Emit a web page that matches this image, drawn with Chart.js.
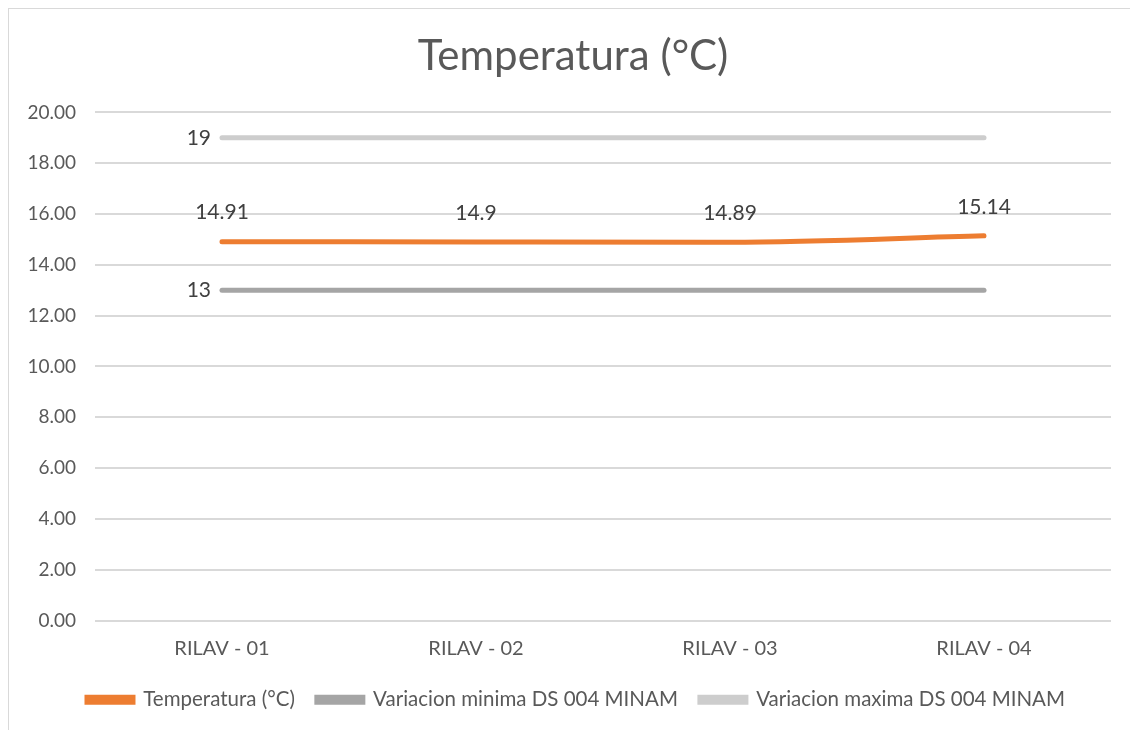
<!DOCTYPE html>
<html>
<head>
<meta charset="utf-8">
<script src="https://cdn.jsdelivr.net/npm/chart.js@4.4.1/dist/chart.umd.min.js"></script>
<style>
	html, body { margin: 0; padding: 0; background: #fff; }
	#wrap {
		position: absolute; left: 8px; top: 8px;
		width: 1122px; height: 722px;
		border-left: 1px solid #d9d9d9; border-top: 1px solid #d9d9d9;
	}
</style>
</head>
<body>
<div id="wrap"><canvas id="grafico"></canvas></div>
<script>
// datos del grafico
var estaciones = ["RILAV - 01", "RILAV - 02", "RILAV - 03", "RILAV - 04"];
var temperatura = [14.91, 14.9, 14.89, 15.14];
var variacionMinima = [13, 13, 13, 13];
var variacionMaxima = [19, 19, 19, 19];
var nombres = ["Temperatura (°C)", "Variacion minima DS 004 MINAM", "Variacion maxima DS 004 MINAM"];

var fuente = "Lato, 'Open Sans', sans-serif";
var gris = "#595959";

// etiquetas de datos (como en excel)
var etiquetas = {
	id: "etiquetas",
	afterLayout: function(chart) {
		// centrar titulo y leyenda como en excel
		chart.legend.left += 16;
		chart.legend.right += 16;
		chart.titleBlock.left += 13;
		chart.titleBlock.right += 13;
	},
	afterDatasetsDraw: function(chart) {
		var ctx = chart.ctx;
		ctx.save();
		ctx.font = "21px " + fuente;
		ctx.fillStyle = "#404040";
		chart.data.datasets.forEach(function(ds, i) {
			var meta = chart.getDatasetMeta(i);
			meta.data.forEach(function(pt, j) {
				if (i === 0) {
					ctx.textAlign = "center";
					ctx.textBaseline = "middle";
					ctx.fillText(String(ds.data[j]), pt.x, pt.y - 29);
				} else if (j === 0) {
					ctx.textAlign = "right";
					ctx.textBaseline = "middle";
					ctx.fillText(String(ds.data[j]), pt.x - 11, pt.y);
				}
			});
		});
		ctx.restore();
	}
};

var ctx = document.getElementById("grafico");

var grafico = new Chart(ctx, {
	type: "line",
	data: {
		labels: estaciones,
		datasets: [
			{
				label: nombres[0],
				data: temperatura,
				borderColor: "#ED7D31",
				backgroundColor: "#ED7D31",
				borderWidth: 5,
				cubicInterpolationMode: "monotone",
				pointRadius: 0,
				borderCapStyle: "round"
			},
			{
				label: nombres[1],
				data: variacionMinima,
				borderColor: "#A5A5A5",
				backgroundColor: "#A5A5A5",
				borderWidth: 5,
				pointRadius: 0,
				borderCapStyle: "round"
			},
			{
				label: nombres[2],
				data: variacionMaxima,
				borderColor: "#CDCDCD",
				backgroundColor: "#CDCDCD",
				borderWidth: 5,
				pointRadius: 0,
				borderCapStyle: "round"
			}
		]
	},
	options: {
		responsive: true,
		maintainAspectRatio: false,
		animation: false,
		layout: { padding: { left: 0, right: 20, top: 0, bottom: 11 } },
		plugins: {
			tooltip: { enabled: false },
			title: {
				display: true,
				text: "Temperatura (°C)",
				color: gris,
				font: { family: fuente, size: 42, weight: "normal" },
				padding: { top: 22, bottom: 31 }
			},
			legend: {
				position: "bottom",
				labels: {
					color: gris,
					font: { family: fuente, size: 20.5 },
					boxWidth: 46,
					boxHeight: 5,
					padding: 22
				}
			}
		},
		scales: {
			x: {
				offset: true,
				afterFit: function(scale) { scale.height = 47; },
				grid: { display: false },
				border: { display: false },
				ticks: {
					color: gris,
					font: { family: fuente, size: 20 },
					padding: 8
				}
			},
			y: {
				min: 0,
				max: 20,
				afterFit: function(scale) { scale.width = 86; },
				grid: { color: "#D9D9D9", lineWidth: 2, drawTicks: false },
				border: { display: false },
				ticks: {
					stepSize: 2,
					color: gris,
					font: { family: fuente, size: 19 },
					padding: 19,
					callback: function(v) { return v.toFixed(2); }
				}
			}
		}
	},
	plugins: [etiquetas]
});
</script>
</body>
</html>
